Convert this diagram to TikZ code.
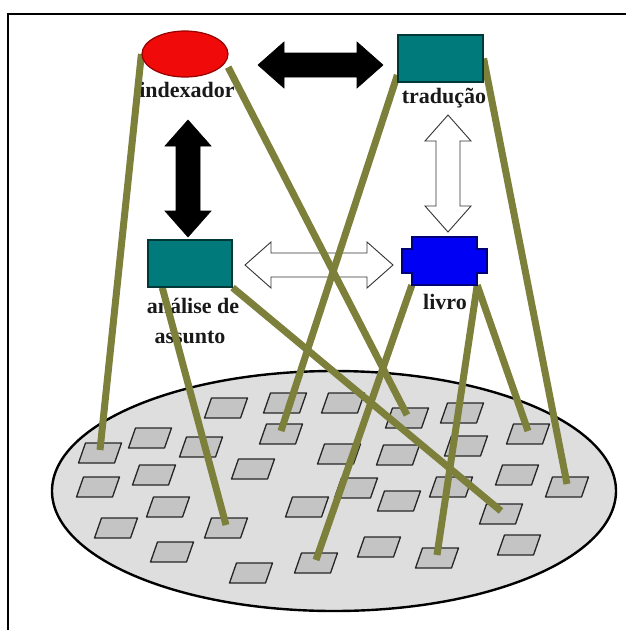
\documentclass[tikz,border=0pt]{standalone}
\usepackage{fontspec}
\setmainfont{Liberation Serif}
\usetikzlibrary{shapes.geometric}
\pgfdeclarelayer{background}
\pgfdeclarelayer{front}
\pgfsetlayers{background,main,front}
\definecolor{tealbox}{RGB}{0,122,122}
\definecolor{tealedge}{RGB}{0,55,55}
\definecolor{linkolive}{RGB}{125,128,58}
\definecolor{platefill}{RGB}{222,222,222}
\definecolor{tilefill}{RGB}{196,196,196}
\definecolor{redfill}{RGB}{240,10,10}
\definecolor{rededge}{RGB}{150,0,0}
\definecolor{bluefill}{RGB}{0,0,245}
\definecolor{blueedge}{RGB}{0,0,120}
\begin{document}
\begin{tikzpicture}[x=1pt,y=-1pt,
  nametext/.style={font=\bfseries\fontsize{22}{26}\selectfont, text=black!90, inner sep=0pt, anchor=base},
  link/.style={draw=linkolive, line width=7pt},
  tile/.style={fill=tilefill, draw=black!85, line width=1.3pt, line join=round},
  boxnode/.style={rectangle, fill=tealbox, draw=tealedge, line width=1.2pt,
    minimum width=85pt, minimum height=47pt, inner sep=0pt},
  blackarrow/.style={fill=black, draw=black, line width=0.6pt, line join=miter},
  whitearrow/.style={fill=white, draw=black!80, line width=0.9pt, line join=miter},
  dblarrow/.pic={
    \path[pic actions] (-#1/2,0) -- (-#1/2+26,-23) -- (-#1/2+26,-12) -- (#1/2-26,-12)
      -- (#1/2-26,-23) -- (#1/2,0) -- (#1/2-26,23) -- (#1/2-26,12)
      -- (-#1/2+26,12) -- (-#1/2+26,23) -- cycle;
  }]
\useasboundingbox (0,0) rectangle (626,630);

% shaped nodes, kept in front of the links
\begin{pgfonlayer}{front}
  \node[ellipse, fill=redfill, draw=rededge, line width=1.2pt,
        minimum width=86pt, minimum height=46pt, inner sep=0pt] (idx) at (185,54) {};
  \node[boxnode] (tra) at (440.5,58.5) {};
  \node[boxnode, minimum width=84pt] (ana) at (190,263.5) {};
  \node[rectangle, minimum width=65pt, minimum height=48pt, inner sep=0pt] (liv) at (444.5,261) {};
  \filldraw[fill=bluefill, draw=blueedge, line width=1.2pt, shift={(liv.center)}]
    (-32.5,-24) -- (32.5,-24) -- (32.5,-12) -- (42.5,-12) -- (42.5,12) -- (32.5,12)
    -- (32.5,24) -- (-32.5,24) -- (-32.5,12) -- (-42.5,12) -- (-42.5,-12) -- (-32.5,-12) -- cycle;
\end{pgfonlayer}

% page, frame, plate and its tiles
\begin{pgfonlayer}{background}
  \fill[white] (0,0) rectangle (626,630);
  \draw[black, line width=2pt] (8,630) -- (8,14) -- (626,14);
  \filldraw[fill=platefill, draw=black, line width=2.4pt] (334,491) ellipse [x radius=282, y radius=120];
  \foreach \n/\cx/\cy in {a/100/453, b/150/438, c/201/447, d/226/408, e/285/403, f/281/434,
      g/343/403, h/339/454, i/154/475, j/98/487, k/253/469, l/168/507, m/116/528, n/226/528,
      o/307/507, p/172/552, q/251/573, r/316/563, B/407/418, C/462/413, D/528/434, F/398/455,
      G/466/446, H/517/475, I/567/487, K/356/488, L/399/501, M/451/487, N/501/514, O/379/547,
      P/437/558, Q/519/545} {
    \path[tile] (\cx-21.5,\cy+10) -- (\cx+14.5,\cy+10) -- (\cx+21.5,\cy-10) -- (\cx-14.5,\cy-10) -- cycle;
    \coordinate (tile-\n) at (\cx,\cy-3);
  }
\end{pgfonlayer}

% block arrows between the concepts
\pic[blackarrow] at (320.5,65) {dblarrow=125};
\pic[blackarrow, rotate=90] at (188,178.5) {dblarrow=117};
\pic[whitearrow] at (319,265) {dblarrow=148};
\pic[whitearrow, rotate=90] at (448,173.5) {dblarrow=117};

% captions
\node[nametext] (idx-t) at (187,97) {indexador};
\node[nametext] (tra-t) at (444,103) {tradução};
\node[nametext] (ana-t1) at (193,313) {análise de};
\node[nametext] (ana-t2) at (190,343) {assunto};
\node[nametext] (liv-t) at (445,309) {livro};

% links from the concepts down to the tiles
\draw[link] (idx.west) -- (tile-a);
\draw[link] ([xshift=7pt]idx.-20) -- (tile-B);
\draw[link] (tra.201) -- (tile-f);
\draw[link] (tra.east) -- (tile-I);
\draw[link] (ana.221) -- (tile-n);
\draw[link] (ana.south east) -- (tile-N);
\draw[link] (liv.south west) -- (tile-r);
\draw[link] (liv.south east) -- (tile-D);
\draw[link] (liv.south east) -- (tile-P);
\end{tikzpicture}
\end{document}
